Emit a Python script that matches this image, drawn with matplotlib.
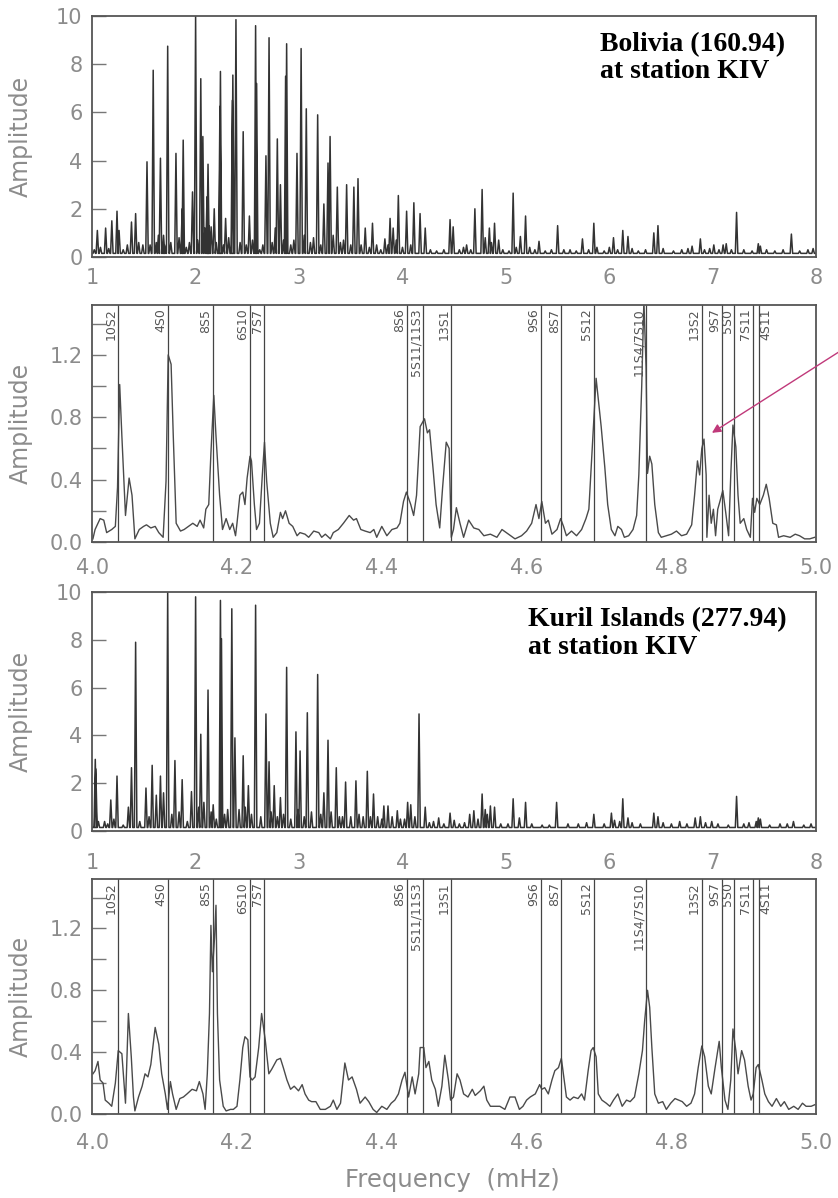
import numpy as np
import matplotlib.pyplot as plt

# ---- broad spectra 1-8 mHz: peak frequency (mHz) and amplitude ----
bol_peak_f = [1.05, 1.13, 1.19, 1.24, 1.26, 1.38, 1.42, 1.49, 1.53, 1.59, 1.66, 1.69, 1.73,
              1.81, 1.87, 1.88, 1.97, 2.00, 2.05, 2.07, 2.11, 2.12, 2.15, 2.18, 2.235, 2.24,
              2.29, 2.355, 2.36, 2.39, 2.46, 2.52, 2.58, 2.59, 2.68, 2.71, 2.79, 2.82, 2.87,
              2.88, 2.98, 3.02, 3.07, 3.18, 3.24, 3.28, 3.30, 3.37, 3.46, 3.53, 3.57, 3.64,
              3.71, 3.83, 3.88, 3.91, 3.96, 4.04, 4.11, 4.17, 4.22, 4.46, 4.49, 4.62, 4.70,
              4.77, 4.84, 4.89, 4.93, 5.07, 5.14, 5.19, 5.32, 5.50, 5.74, 5.85, 6.04, 6.13,
              6.18, 6.43, 6.47, 6.88, 7.01, 7.13, 7.23, 7.44, 7.76, 7.92]
bol_peak_a = [1.1, 1.2, 1.5, 1.9, 1.1, 1.45, 1.8, 0.5, 3.95, 7.75, 4.1, 0.9, 8.75,
              4.3, 2.0, 4.85, 2.7, 10.0, 7.4, 5.0, 2.5, 3.85, 1.25, 2.0, 6.25, 7.7,
              1.6, 6.5, 7.55, 9.85, 5.2, 1.7, 9.6, 7.2, 4.2, 9.1, 4.9, 3.0, 7.5,
              8.85, 4.3, 8.65, 6.15, 5.9, 2.2, 3.9, 5.0, 2.9, 3.0, 2.9, 3.25, 1.2,
              1.4, 0.75, 1.6, 1.2, 2.55, 1.9, 2.25, 1.8, 1.2, 1.55, 1.25, 0.5, 2.0,
              2.8, 1.2, 1.4, 0.7, 2.65, 0.85, 1.7, 0.65, 1.3, 0.75, 1.4, 0.8, 1.1,
              0.85, 1.0, 1.3, 0.75, 0.5, 0.55, 1.85, 0.55, 0.95, 0.3]
bol_noise_f = [1.02, 1.08, 1.16, 1.30, 1.34, 1.45, 1.56, 1.62, 1.64, 1.70, 1.76, 1.84, 1.91,
               1.94, 2.02, 2.09, 2.13, 2.20, 2.27, 2.32, 2.43, 2.49, 2.55, 2.62, 2.65, 2.74,
               2.77, 2.85, 2.92, 2.95, 3.05, 3.11, 3.14, 3.21, 3.33, 3.40, 3.43, 3.50, 3.60,
               3.68, 3.75, 3.79, 3.86, 3.94, 4.00, 4.08, 4.27, 4.33, 4.40, 4.55, 4.59, 4.66,
               4.80, 4.86, 4.97, 5.03, 5.10, 5.23, 5.28, 5.38, 5.44, 5.56, 5.62, 5.68, 5.80,
               5.88, 5.95, 6.00, 6.08, 6.22, 6.28, 6.35, 6.52, 6.62, 6.70, 6.76, 6.80, 6.92,
               6.97, 7.06, 7.10, 7.18, 7.30, 7.38, 7.46, 7.52, 7.60, 7.68, 7.84, 7.97]
bol_noise_a = [0.3, 0.4, 0.35, 0.3, 0.5, 0.6, 0.5, 0.6, 0.9, 0.5, 0.6, 0.8, 0.4,
               0.6, 0.7, 1.2, 1.3, 0.6, 0.5, 0.8, 0.6, 0.5, 0.7, 0.3, 0.5, 0.6,
               1.2, 0.7, 0.5, 0.7, 0.9, 0.6, 0.8, 0.5, 0.9, 0.6, 0.7, 0.5, 0.5,
               0.4, 0.5, 0.3, 0.5, 0.7, 0.4, 0.5, 0.3, 0.25, 0.3, 0.3, 0.4, 0.3,
               0.8, 0.6, 0.3, 0.25, 0.4, 0.4, 0.3, 0.25, 0.3, 0.3, 0.3, 0.25, 0.3,
               0.4, 0.25, 0.4, 0.3, 0.35, 0.25, 0.3, 0.35, 0.25, 0.3, 0.35, 0.45, 0.3,
               0.35, 0.3, 0.5, 0.3, 0.3, 0.25, 0.45, 0.3, 0.25, 0.3, 0.25, 0.35]

kur_peak_f = [1.03, 1.035, 1.12, 1.18, 1.24, 1.38, 1.42, 1.52, 1.58, 1.66, 1.69, 1.73, 1.80,
              1.87, 1.96, 2.00, 2.05, 2.12, 2.17, 2.24, 2.25, 2.35, 2.38, 2.46, 2.51, 2.58,
              2.68, 2.71, 2.76, 2.82, 2.88, 2.97, 3.01, 3.08, 3.18, 3.24, 3.28, 3.36, 3.45,
              3.55, 3.66, 3.72, 3.82, 3.86, 3.95, 4.05, 4.08, 4.16, 4.22, 4.35, 4.46, 4.65,
              4.69, 4.77, 4.85, 4.89, 5.07, 5.13, 5.19, 5.49, 5.85, 6.02, 6.13, 6.18, 6.43,
              6.47, 6.68, 6.83, 6.88, 6.99, 7.23, 7.35, 7.44, 7.78]
kur_peak_a = [3.0, 2.6, 0.4, 1.3, 2.3, 2.65, 7.9, 1.8, 2.75, 2.3, 1.6, 10.0, 2.95,
              2.15, 1.65, 9.8, 4.05, 5.9, 1.1, 9.65, 8.05, 9.3, 3.9, 3.15, 1.9, 9.45,
              4.9, 2.9, 1.9, 1.4, 6.85, 4.15, 3.35, 4.95, 6.55, 1.6, 3.8, 2.65, 2.05,
              2.1, 2.5, 1.55, 1.05, 1.05, 0.85, 1.2, 1.1, 4.9, 1.0, 0.55, 0.75, 0.7,
              0.85, 1.55, 1.05, 1.0, 1.35, 0.55, 1.2, 1.2, 0.7, 0.75, 1.35, 0.55, 0.75,
              0.6, 0.4, 0.55, 0.6, 0.4, 1.45, 0.35, 0.55, 0.4]
kur_noise_f = [1.06, 1.15, 1.21, 1.30, 1.35, 1.46, 1.55, 1.62, 1.77, 1.84, 1.92, 2.03, 2.08,
               2.15, 2.20, 2.28, 2.31, 2.42, 2.48, 2.54, 2.63, 2.73, 2.79, 2.85, 2.92, 2.99,
               3.05, 3.12, 3.21, 3.31, 3.39, 3.42, 3.50, 3.58, 3.62, 3.69, 3.76, 3.80, 3.90,
               3.98, 4.02, 4.12, 4.26, 4.30, 4.40, 4.50, 4.55, 4.60, 4.73, 4.80, 4.82, 4.95,
               5.02, 5.25, 5.35, 5.42, 5.60, 5.70, 5.78, 5.95, 6.05, 6.10, 6.22, 6.30, 6.52,
               6.60, 6.75, 6.93, 7.05, 7.15, 7.30, 7.42, 7.46, 7.55, 7.65, 7.72, 7.88, 7.95]
kur_noise_a = [0.4, 0.3, 0.5, 0.25, 1.0, 0.4, 0.6, 1.5, 0.7, 0.8, 0.4, 1.0, 1.2,
               0.8, 0.5, 0.7, 0.9, 0.9, 1.0, 0.7, 0.6, 0.8, 0.6, 0.7, 0.5, 0.9,
               0.6, 0.8, 0.7, 0.8, 0.6, 0.6, 0.6, 0.7, 0.6, 0.6, 0.6, 0.5, 0.6,
               0.5, 0.5, 0.6, 0.35, 0.4, 0.3, 0.45, 0.3, 0.35, 0.5, 0.9, 0.7, 0.3,
               0.3, 0.3, 0.25, 0.25, 0.3, 0.3, 0.35, 0.3, 0.45, 0.4, 0.35, 0.3, 0.35,
               0.3, 0.3, 0.35, 0.3, 0.25, 0.3, 0.4, 0.5, 0.25, 0.3, 0.3, 0.25, 0.3]

# ---- zoomed spectra 4-5 mHz: (frequency, amplitude) trace points ----
bol_zoom = [(4.001, 0.02), (4.004, 0.08), (4.011, 0.15), (4.016, 0.14), (4.020, 0.06), (4.027, 0.08),
            (4.032, 0.10), (4.035, 0.35), (4.038, 1.01), (4.041, 0.68), (4.046, 0.17), (4.051, 0.41),
            (4.055, 0.30), (4.059, 0.02), (4.065, 0.08), (4.071, 0.10), (4.075, 0.11), (4.081, 0.09),
            (4.087, 0.10), (4.092, 0.06), (4.098, 0.03), (4.102, 0.39), (4.105, 1.20), (4.109, 1.14),
            (4.112, 0.68), (4.116, 0.12), (4.122, 0.07), (4.127, 0.08), (4.133, 0.10), (4.139, 0.12),
            (4.145, 0.10), (4.149, 0.14), (4.154, 0.09), (4.157, 0.21), (4.161, 0.24), (4.164, 0.57),
            (4.168, 0.94), (4.171, 0.68), (4.176, 0.30), (4.180, 0.08), (4.185, 0.15), (4.190, 0.08),
            (4.194, 0.12), (4.198, 0.04), (4.200, 0.12), (4.204, 0.30), (4.208, 0.32), (4.211, 0.24),
            (4.214, 0.41), (4.218, 0.55), (4.220, 0.52), (4.224, 0.24), (4.227, 0.08), (4.231, 0.12),
            (4.235, 0.43), (4.238, 0.64), (4.241, 0.39), (4.246, 0.12), (4.250, 0.03), (4.255, 0.06),
            (4.260, 0.19), (4.263, 0.15), (4.267, 0.20), (4.272, 0.12), (4.277, 0.10), (4.283, 0.04),
            (4.287, 0.06), (4.294, 0.05), (4.299, 0.03), (4.306, 0.07), (4.313, 0.06), (4.317, 0.03),
            (4.322, 0.05), (4.329, 0.02), (4.333, 0.06), (4.340, 0.08), (4.347, 0.12), (4.355, 0.17),
            (4.361, 0.14), (4.365, 0.15), (4.371, 0.08), (4.377, 0.07), (4.384, 0.06), (4.389, 0.08),
            (4.393, 0.03), (4.400, 0.10), (4.407, 0.04), (4.414, 0.08), (4.421, 0.09), (4.425, 0.12),
            (4.430, 0.26), (4.434, 0.32), (4.440, 0.24), (4.444, 0.17), (4.448, 0.30), (4.453, 0.74),
            (4.459, 0.79), (4.463, 0.70), (4.466, 0.72), (4.471, 0.46), (4.475, 0.24), (4.480, 0.09),
            (4.484, 0.35), (4.489, 0.64), (4.493, 0.60), (4.496, 0.03), (4.499, 0.08), (4.503, 0.22),
            (4.508, 0.12), (4.513, 0.03), (4.520, 0.14), (4.527, 0.09), (4.534, 0.08), (4.541, 0.04),
            (4.550, 0.05), (4.559, 0.03), (4.566, 0.08), (4.575, 0.05), (4.584, 0.02), (4.593, 0.04),
            (4.600, 0.07), (4.607, 0.12), (4.613, 0.24), (4.617, 0.15), (4.621, 0.26), (4.626, 0.12),
            (4.630, 0.14), (4.635, 0.05), (4.642, 0.08), (4.647, 0.15), (4.651, 0.10), (4.655, 0.04),
            (4.662, 0.07), (4.669, 0.04), (4.676, 0.08), (4.682, 0.15), (4.686, 0.21), (4.691, 0.63),
            (4.696, 1.05), (4.703, 0.74), (4.708, 0.48), (4.712, 0.24), (4.717, 0.08), (4.722, 0.04),
            (4.726, 0.10), (4.731, 0.08), (4.735, 0.03), (4.741, 0.04), (4.747, 0.08), (4.752, 0.17),
            (4.755, 0.43), (4.759, 1.00), (4.762, 1.55), (4.765, 1.12), (4.767, 0.44), (4.770, 0.55),
            (4.773, 0.50), (4.777, 0.24), (4.782, 0.06), (4.786, 0.03), (4.793, 0.04), (4.800, 0.05),
            (4.807, 0.07), (4.814, 0.04), (4.821, 0.05), (4.828, 0.11), (4.832, 0.30), (4.836, 0.52),
            (4.839, 0.43), (4.842, 0.60), (4.845, 0.66), (4.848, 0.43), (4.849, 0.03), (4.852, 0.30),
            (4.855, 0.12), (4.858, 0.21), (4.861, 0.04), (4.864, 0.21), (4.867, 0.26), (4.871, 0.33),
            (4.875, 0.19), (4.879, 0.04), (4.882, 0.43), (4.885, 0.75), (4.889, 0.61), (4.892, 0.30),
            (4.895, 0.12), (4.900, 0.15), (4.904, 0.08), (4.909, 0.03), (4.912, 0.28), (4.915, 0.19),
            (4.918, 0.28), (4.922, 0.24), (4.927, 0.30), (4.931, 0.37), (4.935, 0.28), (4.940, 0.12),
            (4.945, 0.11), (4.948, 0.03), (4.955, 0.04), (4.964, 0.03), (4.971, 0.05), (4.977, 0.04),
            (4.984, 0.02), (4.991, 0.02), (4.998, 0.03)]

kur_zoom = [(4.001, 0.26), (4.004, 0.28), (4.008, 0.34), (4.011, 0.22), (4.015, 0.20), (4.018, 0.09),
            (4.023, 0.07), (4.027, 0.05), (4.032, 0.20), (4.036, 0.41), (4.041, 0.39), (4.046, 0.07),
            (4.050, 0.65), (4.054, 0.37), (4.057, 0.11), (4.059, 0.02), (4.064, 0.11), (4.069, 0.18),
            (4.073, 0.26), (4.077, 0.24), (4.081, 0.32), (4.087, 0.56), (4.092, 0.45), (4.096, 0.26),
            (4.101, 0.13), (4.104, 0.03), (4.108, 0.21), (4.111, 0.13), (4.116, 0.03), (4.121, 0.10),
            (4.126, 0.11), (4.131, 0.13), (4.138, 0.16), (4.144, 0.15), (4.148, 0.21), (4.153, 0.13),
            (4.156, 0.03), (4.159, 0.26), (4.162, 0.65), (4.164, 1.22), (4.166, 0.92), (4.169, 1.14),
            (4.171, 1.35), (4.173, 0.65), (4.176, 0.22), (4.181, 0.05), (4.185, 0.02), (4.191, 0.03),
            (4.195, 0.03), (4.200, 0.05), (4.204, 0.22), (4.208, 0.43), (4.211, 0.50), (4.215, 0.48),
            (4.218, 0.24), (4.221, 0.22), (4.225, 0.24), (4.230, 0.43), (4.234, 0.65), (4.239, 0.48),
            (4.244, 0.26), (4.248, 0.29), (4.255, 0.35), (4.260, 0.36), (4.264, 0.30), (4.269, 0.22),
            (4.274, 0.16), (4.279, 0.18), (4.285, 0.15), (4.290, 0.19), (4.294, 0.13), (4.299, 0.09),
            (4.303, 0.08), (4.309, 0.08), (4.315, 0.03), (4.322, 0.03), (4.329, 0.05), (4.333, 0.09),
            (4.338, 0.03), (4.343, 0.07), (4.349, 0.33), (4.354, 0.22), (4.359, 0.24), (4.365, 0.16),
            (4.370, 0.07), (4.377, 0.11), (4.382, 0.08), (4.388, 0.03), (4.393, 0.01), (4.400, 0.05),
            (4.407, 0.03), (4.413, 0.07), (4.418, 0.09), (4.423, 0.13), (4.428, 0.22), (4.432, 0.27),
            (4.437, 0.11), (4.442, 0.24), (4.446, 0.13), (4.451, 0.26), (4.453, 0.43), (4.458, 0.43),
            (4.461, 0.30), (4.465, 0.34), (4.469, 0.22), (4.474, 0.16), (4.478, 0.05), (4.483, 0.18),
            (4.487, 0.38), (4.492, 0.22), (4.495, 0.09), (4.499, 0.11), (4.504, 0.26), (4.508, 0.22),
            (4.513, 0.13), (4.519, 0.11), (4.525, 0.16), (4.529, 0.12), (4.536, 0.15), (4.541, 0.18),
            (4.545, 0.09), (4.550, 0.05), (4.557, 0.05), (4.563, 0.05), (4.570, 0.03), (4.577, 0.11),
            (4.584, 0.11), (4.590, 0.03), (4.595, 0.05), (4.600, 0.09), (4.605, 0.11), (4.612, 0.13),
            (4.618, 0.19), (4.621, 0.16), (4.625, 0.17), (4.630, 0.13), (4.635, 0.22), (4.639, 0.28),
            (4.644, 0.30), (4.648, 0.36), (4.652, 0.22), (4.655, 0.11), (4.660, 0.09), (4.665, 0.11),
            (4.671, 0.10), (4.676, 0.13), (4.680, 0.09), (4.685, 0.28), (4.689, 0.41), (4.692, 0.43),
            (4.696, 0.37), (4.699, 0.13), (4.704, 0.09), (4.710, 0.07), (4.715, 0.05), (4.720, 0.09),
            (4.726, 0.13), (4.732, 0.05), (4.738, 0.09), (4.743, 0.08), (4.749, 0.11), (4.755, 0.26),
            (4.760, 0.41), (4.763, 0.60), (4.767, 0.80), (4.770, 0.69), (4.773, 0.43), (4.777, 0.13),
            (4.782, 0.07), (4.788, 0.08), (4.793, 0.03), (4.799, 0.07), (4.805, 0.10), (4.810, 0.09),
            (4.815, 0.08), (4.821, 0.05), (4.827, 0.07), (4.832, 0.13), (4.837, 0.30), (4.842, 0.44),
            (4.846, 0.37), (4.851, 0.18), (4.855, 0.13), (4.860, 0.29), (4.866, 0.47), (4.869, 0.30),
            (4.874, 0.09), (4.878, 0.03), (4.882, 0.22), (4.885, 0.55), (4.889, 0.41), (4.892, 0.26),
            (4.897, 0.41), (4.901, 0.35), (4.906, 0.18), (4.910, 0.09), (4.913, 0.13), (4.917, 0.30),
            (4.920, 0.32), (4.925, 0.22), (4.929, 0.13), (4.934, 0.08), (4.939, 0.05), (4.945, 0.10),
            (4.951, 0.05), (4.956, 0.08), (4.962, 0.03), (4.969, 0.05), (4.975, 0.03), (4.981, 0.07),
            (4.986, 0.05), (4.993, 0.05), (4.998, 0.06)]

# ---- normal mode identifications ----
mode_f = [4.036, 4.105, 4.167, 4.218, 4.238, 4.435, 4.457, 4.496, 4.620, 4.648,
          4.693, 4.765, 4.842, 4.870, 4.887, 4.913, 4.921]
mode_lab = ['10S2', '4S0', '8S5', '6S10', '7S7', '8S6', '5S11/11S3', '13S1', '9S6', '8S7',
            '5S12', '11S4/7S10', '13S2', '9S7', '5S0', '7S11', '4S11']

titles = ['Bolivia (160.94)\nat station KIV', 'Kuril Islands (277.94)\nat station KIV']

GREY = '#8c8c8c'
LINE = '#333333'


def spikes(pf, pa, nf, na, base=0.15, w=0.012):
    pts = sorted(zip(list(pf) + list(nf), list(pa) + list(na)))
    x, y = [1.0], [base]
    for f, a in pts:
        x += [f - w, f, f + w]
        y += [base, a, base]
    x.append(8.0)
    y.append(base)
    return x, y


def style(ax, pad):
    for s in ax.spines.values():
        s.set_color('#555555')
        s.set_linewidth(1.3)
    ax.tick_params(axis='y', direction='in', length=10, width=1, color='#777777',
                   labelsize=15, labelcolor=GREY, pad=7)
    ax.tick_params(axis='y', which='minor', direction='in', length=10, width=1, color='#777777')
    ax.tick_params(axis='x', length=0, labelsize=15, labelcolor=GREY, pad=pad)
    ax.set_ylabel('Amplitude', fontsize=17, color=GREY)
    ax.yaxis.set_label_coords(-0.082, 0.5)


fig = plt.figure(figsize=(8.38, 11.98), dpi=100)
L, W = 0.110, 0.864
broad_pos = [(0.7855, 0.2011), (0.3063, 0.1995)]
zoom_pos = [(0.5476, 0.1978), (0.0701, 0.1962)]
broad_data = [(bol_peak_f, bol_peak_a, bol_noise_f, bol_noise_a),
              (kur_peak_f, kur_peak_a, kur_noise_f, kur_noise_a)]
zoom_data = [bol_zoom, kur_zoom]
title_x = [0.702, 0.602]
pads = [(8, 11.5), (16, 14)]

for k in range(2):
    # broad spectrum
    ax = fig.add_axes([L, broad_pos[k][0], W, broad_pos[k][1]])
    x, y = spikes(*broad_data[k])
    ax.plot(x, y, color=LINE, lw=1.1)
    ax.set_xlim(1, 8)
    ax.set_ylim(0, 10)
    ax.set_xticks(range(1, 9))
    ax.set_yticks(range(0, 11, 2))
    style(ax, pads[k][0])
    ax.text(title_x[k], 0.935, titles[k], transform=ax.transAxes, ha='left', va='top',
            family='Liberation Serif', weight='bold', fontsize=20, linespacing=1.1)

    # zoomed spectrum with mode lines
    ax = fig.add_axes([L, zoom_pos[k][0], W, zoom_pos[k][1]])
    zf, za = zip(*zoom_data[k])
    ax.plot(zf, za, color='#4a4a4a', lw=1.0)
    ax.set_xlim(4.0, 5.0)
    ax.set_ylim(0, 1.52)
    ax.set_xticks([4.0, 4.2, 4.4, 4.6, 4.8, 5.0])
    ax.set_xticklabels(['4.0', '4.2', '4.4', '4.6', '4.8', '5.0'])
    ax.set_yticks([0.0, 0.4, 0.8, 1.2])
    ax.set_yticklabels(['0.0', '0.4', '0.8', '1.2'])
    ax.set_yticks([0.2, 0.6, 1.0, 1.4], minor=True)
    style(ax, pads[k][1])
    trans = ax.get_xaxis_transform()
    for f, lab in zip(mode_f, mode_lab):
        ax.axvline(f, color='#444444', lw=0.9)
        # last label sits just right of its line so the close pair stays readable
        side = 'left' if lab == mode_lab[-1] else 'right'
        off = 0.001 if side == 'left' else -0.001
        ax.text(f + off, 0.985, lab, transform=trans, rotation=90, ha=side, va='top',
                fontsize=9, color='#555555')
    if k == 0:
        ax.annotate('', xy=(4.856, 0.70), xytext=(5.035, 1.23), annotation_clip=False,
                    arrowprops=dict(arrowstyle='-|>', color='#c0397a', lw=1.0,
                                    mutation_scale=13, shrinkA=0, shrinkB=0))

fig.text(0.54, 0.015, 'Frequency  (mHz)', ha='center', va='center', fontsize=17.5, color=GREY)

plt.savefig('out.png', dpi=100)
